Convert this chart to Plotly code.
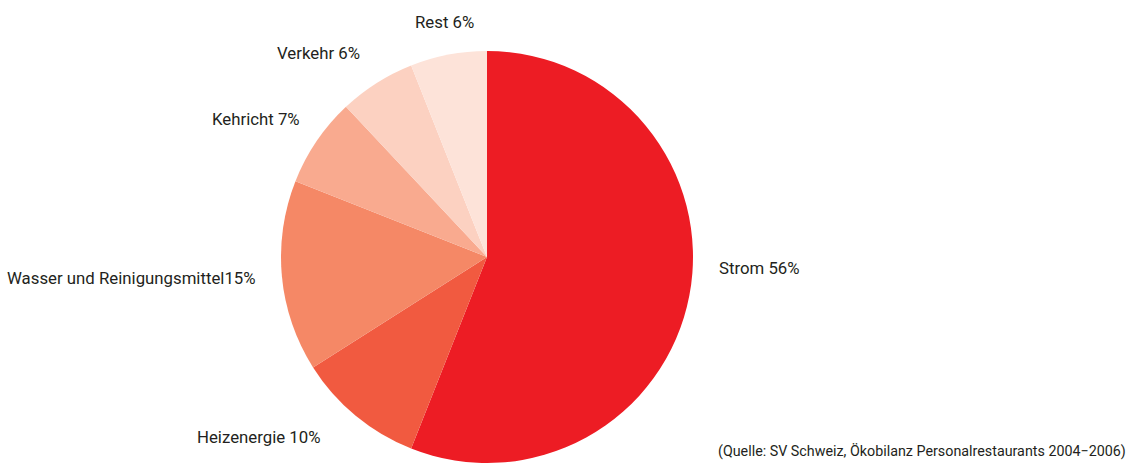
import plotly.graph_objects as go

# Data
categories = ["Strom", "Heizenergie", "Wasser und Reinigungsmittel", "Kehricht", "Verkehr", "Rest"]
shares = [56, 10, 15, 7, 6, 6]
colors = ["#ED1C24", "#F15A40", "#F58866", "#F9AA8F", "#FCD1C1", "#FDE3D9"]
source = "(Quelle: SV Schweiz, Ökobilanz Personalrestaurants 2004\u22122006)"

W, H = 1131, 463
cx, r, top = 487, 206, 51

# label anchor positions in pixels (x, y, xanchor)
label_pos = [
    (717, 268, "left"),
    (322, 437, "right"),
    (258, 278, "right"),
    (302, 119, "right"),
    (362, 53, "right"),
    (476, 22, "right"),
]

fig = go.Figure()
fig.add_trace(go.Pie(
    labels=categories,
    values=shares,
    sort=False,
    direction="clockwise",
    rotation=0,
    marker=dict(colors=colors, line=dict(width=0)),
    textinfo="none",
    hoverinfo="label+percent",
    showlegend=False,
    domain=dict(x=[(cx - r) / W, (cx + r) / W], y=[0, (H - top) / H]),
))

annotations = []
for cat, val, (px, py, anchor) in zip(categories, shares, label_pos):
    sep = "" if cat.startswith("Wasser") else " "
    annotations.append(dict(
        x=px / W, y=1 - py / H, xref="paper", yref="paper",
        text=f"{cat}{sep}{val}%", showarrow=False,
        xanchor=anchor, yanchor="middle",
        font=dict(family="Roboto", size=16.8, color="#231F20"),
    ))
annotations.append(dict(
    x=1128 / W, y=1 - 451 / H, xref="paper", yref="paper",
    text=source, showarrow=False, xanchor="right", yanchor="middle",
    font=dict(family="Roboto", size=14.3, color="#231F20"),
))

fig.update_layout(
    width=W, height=H,
    margin=dict(l=0, r=0, t=0, b=0),
    paper_bgcolor="white",
    plot_bgcolor="white",
    annotations=annotations,
)

# drop the default page margin so the figure sits at the window's corner
fig.write_html("out.html", config={"displayModeBar": False},
               post_script="document.body.style.margin='0';")
